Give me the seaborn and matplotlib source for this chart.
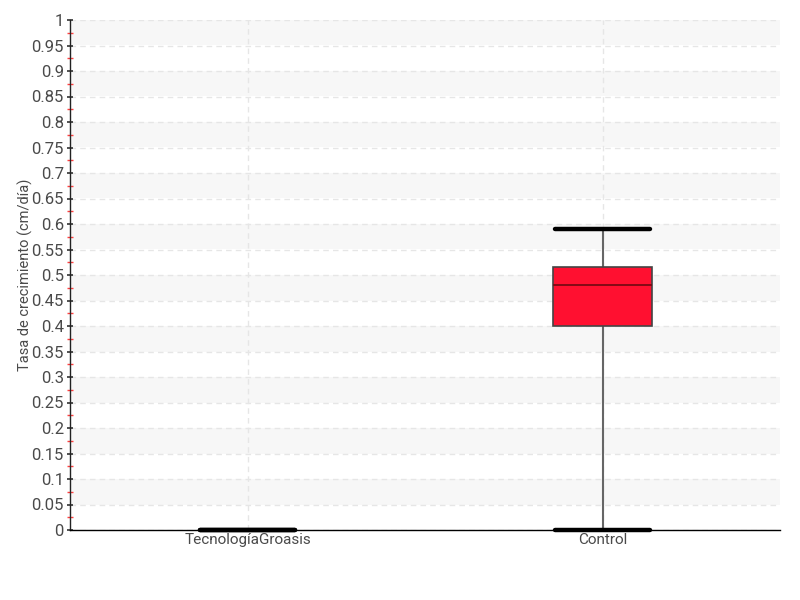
import numpy as np
import pandas as pd
import seaborn as sns
import matplotlib
matplotlib.use("Agg")
import matplotlib.pyplot as plt
from matplotlib.ticker import MultipleLocator, FuncFormatter

categories = ["TecnologíaGroasis", "Control"]
groasis_values = [0.0, 0.0, 0.0, 0.0, 0.0]
control_values = [0.0, 0.40, 0.48, 0.515, 0.59]
y_label = "Tasa de crecimiento (cm/día)"

df = pd.DataFrame({
    "grupo": [categories[0]] * len(groasis_values) + [categories[1]] * len(control_values),
    "tasa": groasis_values + control_values,
})

sns.set_style("white")
plt.rcParams["font.family"] = ["Roboto", "DejaVu Sans"]

fig = plt.figure(figsize=(8, 6), dpi=100)
ax = fig.add_axes([70 / 800, 70 / 600, 710 / 800, 510 / 600])

# alternating bands
for lo in np.arange(0.05, 1.0, 0.1):
    ax.axhspan(lo, lo + 0.05, color="#f7f7f7", zorder=0, lw=0)

sns.boxplot(data=df, x="grupo", y="tasa", order=categories, ax=ax,
            whis=(0, 100), width=0.28, color="#ff1030", saturation=1,
            linewidth=1.2,
            boxprops=dict(facecolor="#ff1030", edgecolor="#444444", linewidth=1.2, zorder=3),
            medianprops=dict(color="#7a0a14", linewidth=1.3, zorder=5),
            whiskerprops=dict(color="#666666", linewidth=1.5, zorder=2),
            capprops=dict(color="black", linewidth=3.2, zorder=6, clip_on=False),
            capwidths=0.265, showfliers=False)

for ln in ax.lines:
    ln.set_clip_on(False)

ax.set_xlim(-0.5, 1.5)
ax.set_ylim(0, 1)
ax.yaxis.set_major_locator(MultipleLocator(0.05))
ax.yaxis.set_minor_locator(MultipleLocator(0.025))
ax.yaxis.set_major_formatter(FuncFormatter(lambda v, p: ("%.2f" % v).rstrip("0").rstrip(".") if v > 0 else "0"))
ax.tick_params(axis="y", which="major", direction="inout", length=5, width=1.2, color="#333333",
               labelsize=12, labelcolor="#4a4a4a", left=True, pad=2)
ax.tick_params(axis="y", which="minor", direction="inout", length=5, width=1, color="#ff4040", left=True)
ax.tick_params(axis="x", length=0, labelsize=11, labelcolor="#4a4a4a", pad=2)

ax.grid(True, axis="y", which="major", color="#e6e6e6", linestyle=(0, (4, 3)), linewidth=1)
ax.grid(True, axis="x", which="major", color="#e6e6e6", linestyle=(0, (4, 3)), linewidth=1)
ax.set_axisbelow(True)

for s in ["top", "right"]:
    ax.spines[s].set_visible(False)
ax.spines["left"].set_color("#222222")
ax.spines["bottom"].set_color("#000000")
ax.spines["left"].set_linewidth(1)
ax.spines["bottom"].set_linewidth(1)

ax.set_xlabel("")
ax.set_ylabel(y_label, fontsize=10.5, color="#4a4a4a")
ax.yaxis.set_label_coords(-0.052, 0.5)

fig.savefig("out.png", dpi=100)
